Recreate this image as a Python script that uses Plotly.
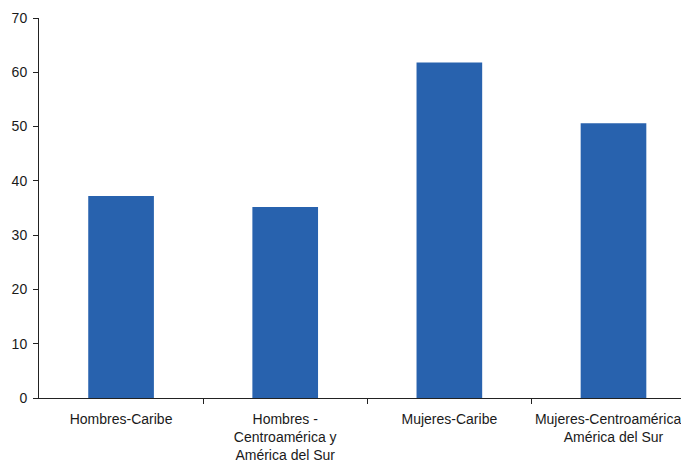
import plotly.graph_objects as go

categories = ["Hombres-Caribe", "Hombres -<br>Centroamérica y<br>América del Sur",
              "Mujeres-Caribe", "Mujeres-Centroamérica y<br>América del Sur"]
values = [37.2, 35.2, 61.8, 50.6]
y_ticks = [0, 10, 20, 30, 40, 50, 60, 70]

pos = list(range(len(categories)))
font = dict(family="Liberation Sans, Arial, sans-serif", size=14, color="#1a1a1a")

fig = go.Figure()
fig.add_trace(go.Bar(x=pos, y=values, width=0.4, marker=dict(color="#2862ae", line=dict(width=0)),
                     xaxis="x", yaxis="y", showlegend=False, hoverinfo="skip"))
fig.add_trace(go.Scatter(x=pos, y=[None]*len(pos), xaxis="x2", yaxis="y", showlegend=False,
                         hoverinfo="skip", mode="markers"))

# page body has an 8px default margin, so the figure is 8px smaller than the window
xr = [-0.5, 3.46]
fig.update_layout(
    width=681, height=455,
    margin=dict(l=31, r=0, t=10, b=65, pad=0, autoexpand=False),
    paper_bgcolor="white", plot_bgcolor="white",
    font=font,
    xaxis=dict(range=xr, tickvals=[0.5, 1.5, 2.5, 3.5], ticktext=["", "", "", ""],
               ticks="outside", ticklen=5, tickcolor="#222", tickwidth=1,
               showline=True, linecolor="#222", linewidth=1, showgrid=False, zeroline=False,
               automargin=False),
    xaxis2=dict(range=xr, overlaying="x", anchor="y", side="bottom",
                tickvals=pos, ticktext=categories, ticks="", showline=False,
                showgrid=False, zeroline=False, tickfont=font, ticklabelstandoff=11,
                ticklabeloverflow="allow", automargin=False),
    yaxis=dict(range=[0, 70], tickvals=y_ticks, ticks="outside", ticklen=5, tickcolor="#222",
               showline=True, linecolor="#222", linewidth=1, showgrid=False, zeroline=False,
               tickfont=font, ticklabelstandoff=3, automargin=False),
    bargap=0.6,
)

fig.write_html("out.html")
